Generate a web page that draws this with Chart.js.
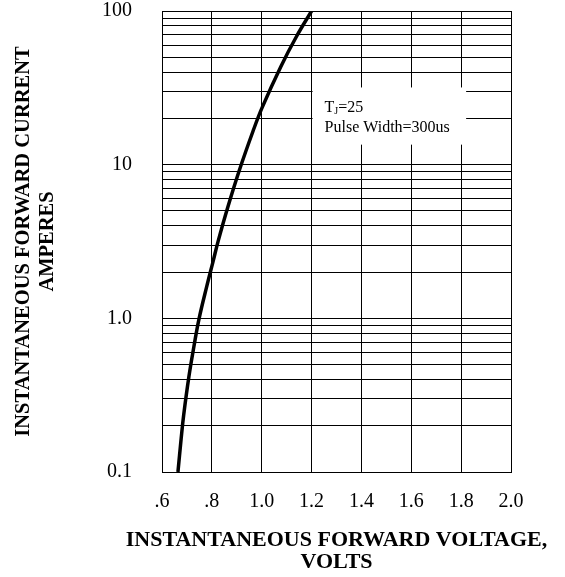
<!DOCTYPE html>
<html lang="en">
<head>
    <meta charset="UTF-8">
    <title>Forward Characteristics</title>
    <script src="https://cdn.jsdelivr.net/npm/chart.js"></script>
    <style>
        body {
            margin: 0;
            padding: 0;
            background: #ffffff;
        }
        .chart-container {
            width: 565px;
            height: 577px;
        }
    </style>
</head>
<body>
    <div class="chart-container">
        <canvas id="ivChart" width="565" height="577"></canvas>
    </div>

    <script>
        // Curva (voltaje en V, corriente en A)
        const voltage = [0.664, 0.677, 0.687, 0.708, 0.728, 0.749, 0.781, 0.805, 0.825, 0.863, 0.911, 0.965, 1.002, 1.077, 1.140, 1.200];
        const current = [0.1, 0.166, 0.235, 0.418, 0.655, 1.0, 1.65, 2.35, 3.17, 5.23, 9.27, 16.5, 23.6, 43.6, 68.5, 100];

        // Ejes
        const xTicks = [0.6, 0.8, 1.0, 1.2, 1.4, 1.6, 1.8, 2.0];
        const xTickLabels = ['.6', '.8', '1.0', '1.2', '1.4', '1.6', '1.8', '2.0'];
        const yDecades = [0.1, 1, 10, 100];
        const yTickLabels = ['0.1', '1.0', '10', '100'];
        const xTitle = ['INSTANTANEOUS FORWARD VOLTAGE,', 'VOLTS'];
        const yTitle = ['INSTANTANEOUS FORWARD CURRENT', 'AMPERES'];

        // Nota dentro del gráfico
        const noteLines = ['T', 'Pulse Width=300us'];
        const noteBox = { x1: 1.2, x2: 1.82, y1: 13.5, y2: 31.8 };

        // Rejilla logarítmica: 1..9 en cada década
        const yGrid = [];
        yDecades.slice(0, -1).forEach(d => {
            for (let m = 1; m <= 9; m++) yGrid.push(+(d * m).toPrecision(3));
        });
        yGrid.push(yDecades[yDecades.length - 1]);

        const serif = "'Liberation Serif', 'Times New Roman', serif";
        Chart.defaults.font.family = serif;
        Chart.defaults.color = '#000';

        const notePlugin = {
            id: 'note',
            beforeDatasetsDraw(chart) {
                const { ctx, scales: { x, y } } = chart;
                const left = x.getPixelForValue(noteBox.x1) + 1;
                const right = x.getPixelForValue(noteBox.x2);
                const top = y.getPixelForValue(noteBox.y2);
                const bottom = y.getPixelForValue(noteBox.y1);
                ctx.save();
                ctx.fillStyle = '#fff';
                ctx.fillRect(left, top, right - left, bottom - top);

                ctx.fillStyle = '#000';
                ctx.textBaseline = 'alphabetic';
                ctx.font = '16px ' + serif;
                let tx = left + 12;
                const l1 = top + 25;
                ctx.fillText(noteLines[0], tx, l1);
                tx += ctx.measureText(noteLines[0]).width;
                ctx.font = '10px ' + serif;
                ctx.fillText('J', tx, l1 + 2);
                tx += ctx.measureText('J').width;
                ctx.font = '16px ' + serif;
                ctx.fillText('=25', tx, l1);
                ctx.fillText(noteLines[1], left + 12, top + 45);
                ctx.restore();
            }
        };

        // Título del eje X (el título de Chart.js se comprime al ancho del área)
        const xTitlePlugin = {
            id: 'xTitle',
            afterDraw(chart) {
                const { ctx, chartArea } = chart;
                const cx = (chartArea.left + chartArea.right) / 2;
                ctx.save();
                ctx.fillStyle = '#000';
                ctx.font = 'bold 22px ' + serif;
                ctx.textAlign = 'center';
                ctx.textBaseline = 'middle';
                ctx.fillText(xTitle[0], cx, chartArea.bottom + 68);
                ctx.fillText(xTitle[1], cx, chartArea.bottom + 90);
                ctx.restore();
            }
        };

        const ctx = document.getElementById('ivChart').getContext('2d');
        const ivChart = new Chart(ctx, {
            type: 'line',
            data: {
                datasets: [{
                    label: 'IF',
                    data: voltage.map((v, i) => ({ x: v, y: current[i] })),
                    borderColor: '#000',
                    borderWidth: 3.5,
                    pointRadius: 0,
                    fill: false,
                    tension: 0.4
                }]
            },
            options: {
                responsive: false,
                animation: false,
                devicePixelRatio: 1,
                layout: {
                    padding: { top: 11, right: 54, left: 0, bottom: 0 }
                },
                scales: {
                    x: {
                        type: 'linear',
                        min: 0.6,
                        max: 2.0,
                        afterBuildTicks: scale => {
                            scale.ticks = xTicks.map(v => ({ value: v }));
                        },
                        afterFit: scale => {
                            scale.height = 105;
                            scale.paddingLeft = 0;
                            scale.paddingRight = 0;
                        },
                        grid: { color: '#000', lineWidth: 1, drawTicks: false },
                        border: { display: true, color: '#000', width: 1 },
                        ticks: {
                            padding: 18,
                            maxRotation: 0,
                            autoSkip: false,
                            font: { size: 20, lineHeight: 1.2 },
                            callback: value => xTickLabels[xTicks.indexOf(value)] ?? ''
                        },
                        title: { display: false }
                    },
                    y: {
                        type: 'logarithmic',
                        min: 0.1,
                        max: 100,
                        afterBuildTicks: scale => {
                            scale.ticks = yGrid.map(v => ({ value: v }));
                        },
                        afterFit: scale => {
                            scale.width = 162;
                            scale.paddingTop = 0;
                            scale.paddingBottom = 0;
                        },
                        grid: { color: '#000', lineWidth: 1, drawTicks: false },
                        border: { display: true, color: '#000', width: 1 },
                        ticks: {
                            padding: 30,
                            autoSkip: false,
                            font: { size: 20, lineHeight: 1.2 },
                            callback: value => {
                                const i = yDecades.findIndex(d => Math.abs(d - value) < 1e-9);
                                return i >= 0 ? yTickLabels[i] : '';
                            }
                        },
                        title: {
                            display: true,
                            text: yTitle,
                            font: { size: 20.5, weight: 'bold', lineHeight: 1.2 },
                            padding: { top: 11, bottom: 0 }
                        }
                    }
                },
                plugins: {
                    legend: { display: false },
                    tooltip: { enabled: false }
                }
            },
            plugins: [notePlugin, xTitlePlugin]
        });
    </script>
</body>
</html>
